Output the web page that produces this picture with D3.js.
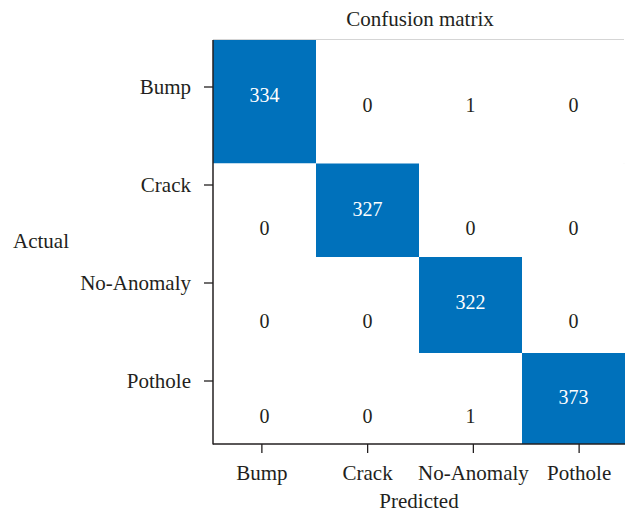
<!DOCTYPE html>
<html>
<head>
<meta charset="utf-8">
<script src="https://cdn.jsdelivr.net/npm/d3@7/dist/d3.min.js"></script>
<style>
  html, body { margin: 0; padding: 0; background: #fff; }
  svg { display: block; }
  text { font-family: "Liberation Serif", "Times New Roman", serif; fill: #231f20; }
</style>
</head>
<body>
<svg id="chart" width="625" height="514"></svg>
<script>
// ---- data ----
const categories = ["Bump", "Crack", "No-Anomaly", "Pothole"];
const actualBump      = [334, 0, 1, 0];
const actualCrack     = [0, 327, 0, 0];
const actualNoAnomaly = [0, 0, 322, 0];
const actualPothole   = [0, 0, 1, 373];
const titleText = "Confusion matrix";
const xTitle = "Predicted";
const yTitle = "Actual";

const rows = [actualBump, actualCrack, actualNoAnomaly, actualPothole];
const cells = [];
rows.forEach((r, i) => r.forEach((v, j) => cells.push({ row: i, col: j, value: v })));

// ---- layout ----
const svg = d3.select("#chart");
const plotL = 213, plotR = 625, plotT = 40, plotB = 444;

// cell grid scales (row units; rows of the source figure are uneven)
const xCell = d3.scaleLinear().domain([0, categories.length]).range([plotL, plotR]);
const yCell = d3.scaleLinear().domain([0, 1, 2, 3, 4]).range([plotT, 163.5, 257, 353, plotB]);
// baseline fraction inside each row for diagonal / off-diagonal labels
const diagFrac = [0.50, 0.56, 0.54, 0.56];
const offFrac = [0.585, 0.765, 0.74, 0.77];

// axis scales
const xAxisScale = d3.scaleBand().domain(categories).range([209, 632]);
const yAxisScale = d3.scaleBand().domain(categories).range([38, 430]);

const color = d3.scaleThreshold().domain([50]).range(["#ffffff", "#0071bb"]);

// frame (top / right light lines)
svg.append("line").attr("x1", plotL).attr("x2", plotR - 1).attr("y1", plotT + 0.5).attr("y2", plotT + 0.5)
  .attr("stroke", "#5a5a5a").attr("stroke-width", 1.6);
svg.append("line").attr("x1", plotR - 1).attr("x2", plotR - 1).attr("y1", plotT).attr("y2", plotB)
  .attr("stroke", "#dddddd").attr("stroke-width", 1);

// cells
svg.append("g").selectAll("rect").data(cells).join("rect")
  .attr("x", d => xCell(d.col))
  .attr("y", d => yCell(d.row))
  .attr("width", d => xCell(d.col + 1) - xCell(d.col))
  .attr("height", d => yCell(d.row + 1) - yCell(d.row))
  .attr("fill", d => color(d.value));

// cell labels
svg.append("g").selectAll("text").data(cells).join("text")
  .attr("x", d => xCell(d.col + 0.5))
  .attr("y", d => yCell(d.row + (d.row === d.col ? diagFrac[d.row] : offFrac[d.row])))
  .attr("text-anchor", "middle")
  .style("font-size", "20px")
  .style("fill", d => d.value >= 50 ? "#ffffff" : "#231f20")
  .text(d => d.value);

// axes lines
svg.append("line").attr("x1", plotL).attr("x2", plotL).attr("y1", plotT).attr("y2", plotB + 0.5)
  .attr("stroke", "#231f20").attr("stroke-width", 1.5);
svg.append("line").attr("x1", plotL).attr("x2", plotR).attr("y1", plotB).attr("y2", plotB)
  .attr("stroke", "#231f20").attr("stroke-width", 1.5);

// x axis ticks + labels
const xAxis = d3.axisBottom(xAxisScale).tickSize(9).tickPadding(12);
const gx = svg.append("g").attr("transform", `translate(0,${plotB})`).call(xAxis);
gx.select(".domain").remove();
gx.selectAll(".tick line").attr("stroke", "#231f20").attr("stroke-width", 1.3);
gx.selectAll(".tick text").style("font-size", "21px").attr("fill", null).attr("dy", "0.71em");
gx.attr("font-family", null).attr("font-size", null);

// y axis ticks + labels
const yAxis = d3.axisLeft(yAxisScale).tickSize(9).tickPadding(13);
const gy = svg.append("g").attr("transform", `translate(${plotL},0)`).call(yAxis);
gy.select(".domain").remove();
gy.selectAll(".tick line").attr("stroke", "#231f20").attr("stroke-width", 1.3);
gy.selectAll(".tick text").style("font-size", "21px").attr("fill", null);
gy.attr("font-family", null).attr("font-size", null);

// titles
svg.append("text").attr("x", 420).attr("y", 26).attr("text-anchor", "middle")
  .style("font-size", "21px").text(titleText);
svg.append("text").attr("x", 419).attr("y", 508).attr("text-anchor", "middle")
  .style("font-size", "21px").text(xTitle);
svg.append("text").attr("x", 13).attr("y", 248).attr("text-anchor", "start")
  .style("font-size", "21px").text(yTitle);
</script>
</body>
</html>
